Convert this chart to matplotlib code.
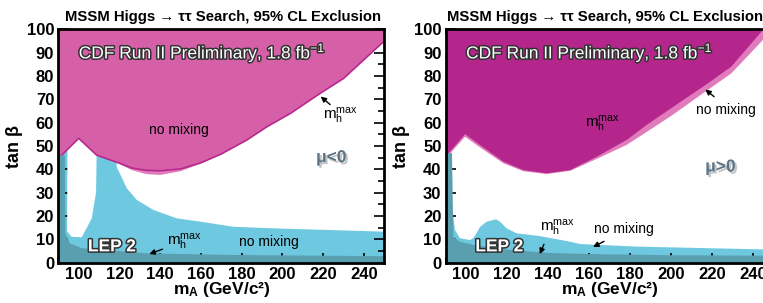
import matplotlib
matplotlib.use('Agg')
import matplotlib.pyplot as plt
import matplotlib.patheffects as pe
from matplotlib.ticker import MultipleLocator

plt.rcParams['font.family'] = ['Liberation Sans', 'DejaVu Sans']
plt.rcParams['mathtext.fontset'] = 'custom'
plt.rcParams['mathtext.rm'] = 'Liberation Sans'
plt.rcParams['mathtext.bf'] = 'Liberation Sans:bold'
plt.rcParams['mathtext.it'] = 'Liberation Sans:italic'

# ---- left panel (mu<0) ----
# CDF exclusion, no mixing (lower edge of the excluded area)
L_nomix_x = [90, 100, 108.8, 119.5, 126, 133, 140, 150, 160, 170, 182.6, 192.5, 204, 218.6, 230.1, 250]
L_nomix_y = [44.7, 53.3, 46.1, 42.6, 39.7, 38.0, 37.6, 39.2, 42.5, 46.5, 52.6, 58.3, 64, 72.6, 79, 95]
# CDF exclusion, mhmax
L_mhmax_x = [90, 100, 108.8, 119.5, 126, 133, 140, 150, 160, 170, 182.6, 192.5, 204, 218.6, 230.1, 250]
L_mhmax_y = [44.7, 53.3, 46.1, 42.8, 40.6, 39.6, 39.4, 40.2, 42.8, 46.6, 52.6, 58.3, 64, 72.6, 79, 95]
# LEP no mixing (cyan) upper edge
L_lepnm_x = [90, 118, 118.7, 123.6, 128.5, 136.7, 148.2, 159.6, 176, 200, 220, 250]
L_lepnm_y = [50, 50, 41, 31.9, 26.9, 22.6, 19, 17.6, 15.4, 14.6, 14.1, 13.3]
# allowed hole inside the LEP no mixing area
L_hole_x = [94.5, 94.3, 96.5, 101.5, 106.4, 108.5, 108.8, 108.8]
L_hole_y = [55, 13.5, 11.1, 10.9, 19, 30, 46, 55]
# LEP mhmax (dark) upper edge
L_lepmh_x = [90, 93.2, 93.4, 95.7, 101.5, 110.5, 133.4, 176, 250]
L_lepmh_y = [46, 46, 12.6, 8.3, 6.2, 5.7, 4.0, 3.3, 2.8]

# ---- right panel (mu>0) ----
R_nomix_x = [90, 99.5, 106.8, 118.2, 127.9, 139.3, 150.8, 163.7, 178.3, 188, 201, 215.5, 229.3, 244.7, 252]
R_nomix_y = [44.6, 54.0, 49.4, 42.6, 39.2, 38.0, 39.4, 44.5, 50.5, 56.0, 63.5, 72.6, 81.1, 95.4, 101]
R_mhmax_x = [90, 99.5, 106.8, 118.2, 127.9, 139.3, 150.8, 163.7, 178.3, 188, 201, 215.5, 229.3, 244.7, 250]
R_mhmax_y = [45.4, 55.1, 50.4, 43.3, 39.7, 38.3, 39.7, 45.4, 52.6, 59, 66.8, 75.4, 84, 99.7, 104]
R_lepnm_x = [90, 93.5, 94.6, 97, 101.9, 103.6, 106.9, 110.1, 114.6, 116.5, 119.8, 124.7, 136, 149, 155.7, 183.2, 250]
R_lepnm_y = [47, 21.2, 14, 10.5, 9.7, 10.5, 15.4, 17.6, 18.6, 17.6, 14.7, 12.6, 11.4, 9.3, 8.0, 6.9, 5.6]
R_lepmh_x = [90, 93.1, 93.8, 97, 103.6, 120, 140, 160, 200, 250]
R_lepmh_y = [47, 47, 11.1, 9.0, 7.6, 5.6, 4.2, 3.7, 3.2, 3.0]

cyan = '#6ec9e0'
teal = '#5a9faf'
pink_l = '#d660a7'
pink_band = '#e07cbc'
mag = '#b5268c'

title = 'MSSM Higgs \u2192 \u03c4\u03c4 Search, 95% CL Exclusion'
outline = [pe.withStroke(linewidth=2.2, foreground='#333333')]
shadow = [pe.withSimplePatchShadow(offset=(1.5, -1.5), shadow_rgbFace='#888888', alpha=0.5)]
mh = 'm$_\\mathregular{h}^\\mathregular{max}$'


def top_poly(ax, xs, ys, color, z):
    ax.fill(list(xs) + [xs[-1], xs[0]], list(ys) + [110, 110], color=color, lw=0, zorder=z)


def bottom_poly(ax, xs, ys, color, z):
    ax.fill(list(xs) + [xs[-1], xs[0]], list(ys) + [0, 0], color=color, lw=0, zorder=z)


def arrow(ax, head, tail):
    ax.annotate('', xy=head, xytext=tail,
                arrowprops=dict(arrowstyle='-|>', color='black', lw=1, mutation_scale=8), zorder=9)


def style(ax, tx):
    ax.set_xlim(90, 250)
    ax.set_ylim(0, 100)
    ax.xaxis.set_major_locator(MultipleLocator(20))
    ax.xaxis.set_minor_locator(MultipleLocator(10))
    ax.yaxis.set_major_locator(MultipleLocator(10))
    ax.yaxis.set_minor_locator(MultipleLocator(5))
    ax.tick_params(which='both', direction='in', top=True, right=True, width=1.2)
    ax.tick_params(which='major', length=7, labelsize=12, pad=3)
    ax.tick_params(which='minor', length=4)
    for lab in ax.get_xticklabels() + ax.get_yticklabels():
        lab.set_fontweight('bold')
    for s in ax.spines.values():
        s.set_linewidth(2)
        s.set_zorder(10)
    ax.set_xlabel('$\\mathbf{m_A}$ (GeV/c\u00b2)', fontsize=12.5, fontweight='bold', labelpad=-1)
    ax.set_ylabel('tan \u03b2', fontsize=13, fontweight='bold', labelpad=3)
    ax.set_title(title, fontsize=10.7, fontweight='bold', pad=6, x=tx)
    ax.text(100, 90, 'CDF Run II Preliminary, 1.8 fb$^\\mathregular{-1}$', fontsize=12.5, color='white',
            va='center', path_effects=outline, zorder=9)
    ax.text(104.5, 6.8, 'LEP 2', fontsize=12.5, fontweight='bold', color='white',
            va='center', path_effects=outline, zorder=9)


fig = plt.figure(figsize=(7.63, 3.03), dpi=100)
axL = fig.add_axes([0.0765, 0.133, 0.427, 0.770])
axR = fig.add_axes([0.584, 0.133, 0.430, 0.770])

# left panel
bottom_poly(axL, L_lepnm_x, L_lepnm_y, cyan, 1)
axL.fill(L_hole_x, L_hole_y, color='white', lw=0, zorder=2)
top_poly(axL, L_nomix_x, L_nomix_y, pink_band, 3)
top_poly(axL, L_mhmax_x, L_mhmax_y, pink_l, 4)
axL.plot(L_mhmax_x, L_mhmax_y, color='#b8288c', lw=1.2, zorder=5)
bottom_poly(axL, L_lepmh_x, L_lepmh_y, teal, 6)
style(axL, 0.505)
axL.text(149, 57, 'no mixing', fontsize=10, ha='center', va='center', zorder=9)
axL.text(228.5, 63, mh, fontsize=11, ha='center', va='center', zorder=9)
arrow(axL, (217.8, 72), (224.5, 67))
axL.text(152, 9, mh, fontsize=11, ha='center', va='center', zorder=9)
arrow(axL, (133.4, 3.3), (142.4, 6.2))
axL.text(193.5, 9, 'no mixing', fontsize=10, ha='center', va='center', zorder=9)
axL.text(224, 45, '\u03bc<0', fontsize=12.5, fontweight='bold', color='#5b7486',
         ha='center', va='center', path_effects=shadow, zorder=9)

# right panel
bottom_poly(axR, R_lepnm_x, R_lepnm_y, cyan, 1)
top_poly(axR, R_nomix_x, R_nomix_y, pink_band, 3)
top_poly(axR, R_mhmax_x, R_mhmax_y, mag, 4)
bottom_poly(axR, R_lepmh_x, R_lepmh_y, teal, 6)
style(axR, 0.486)
axR.text(166.5, 59.5, mh, fontsize=11, ha='center', va='center', zorder=9)
axR.text(226.5, 65.5, 'no mixing', fontsize=10, ha='center', va='center', zorder=9)
arrow(axR, (215.6, 75), (222, 70.4))
axR.text(144.5, 15, mh, fontsize=11, ha='center', va='center', zorder=9)
arrow(axR, (135.4, 2.6), (138.5, 9))
axR.text(177, 14.3, 'no mixing', fontsize=10, ha='center', va='center', zorder=9)
arrow(axR, (160.7, 6.2), (168.5, 9.7))
axR.text(224, 41, '\u03bc>0', fontsize=12.5, fontweight='bold', color='#5b7486',
         ha='center', va='center', path_effects=shadow, zorder=9)

fig.savefig('out.png', dpi=100)
